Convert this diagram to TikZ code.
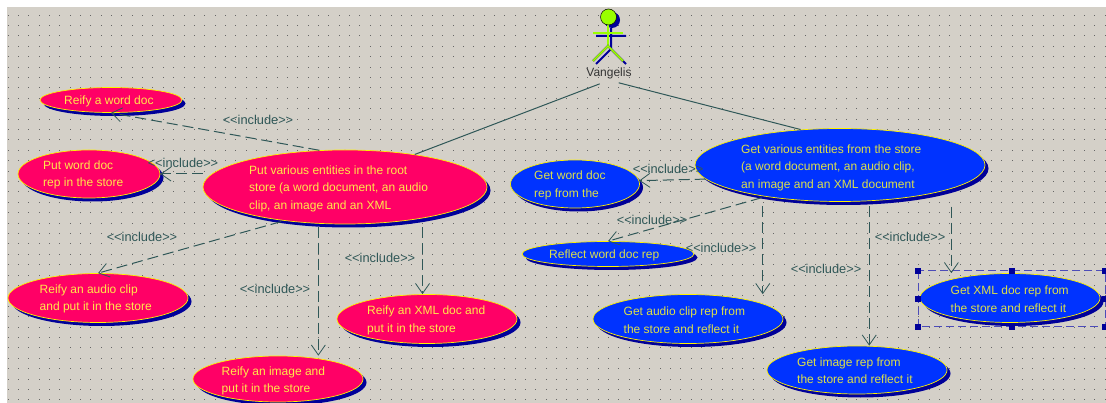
\documentclass[tikz,border=0pt]{standalone}
\usepackage{fontspec}
\setmainfont{Liberation Sans}
\usepackage{tikz}
\usetikzlibrary{arrows.meta,shapes.geometric,shadows}
\definecolor{canvasgrey}{HTML}{D4D0C8}
\definecolor{caseRed}{HTML}{FF0066}
\definecolor{caseBlue}{HTML}{0033FF}
\definecolor{shadowBlue}{HTML}{000099}
\definecolor{lineTeal}{HTML}{2F5757}
\definecolor{textRed}{HTML}{FFE84A}
\definecolor{textBlue}{HTML}{DCE04A}
\definecolor{actorLime}{HTML}{99FF00}
\tikzset{
  usecase/.style={ellipse,draw=yellow,line width=0.7pt,inner sep=0pt,
    general shadow={shadow xshift=3.5pt,shadow yshift=-3.5pt,fill=shadowBlue}},
  casetext/.style={anchor=west,inner sep=0pt,align=left,font=\fontsize{12}{17.5}\selectfont},
  inctext/.style={inner sep=0pt,text=lineTeal,font=\fontsize{12.8}{14}\selectfont},
  assoc/.style={lineTeal,line width=1pt,shorten <=10pt},
  incl/.style={lineTeal,line width=1pt,dash pattern=on 11pt off 5pt,
    -{Straight Barb[length=10pt,width=14pt,line width=0.8pt]}},
  handle/.style={fill=shadowBlue,inner sep=0pt,minimum size=6pt}
}
\begin{document}
\begin{tikzpicture}[x=1pt,y=-1pt]
\useasboundingbox (0,0) rectangle (1106,403);
\clip (0,0) rectangle (1106,403);
\fill[white] (0,0) rectangle (1106,403);
\fill[canvasgrey] (7,7) rectangle (1106,403);
%Punktraster der Zeichenflaeche
\foreach \i in {0,...,106}{
  \foreach \j in {0,...,37}{
    \fill[black!60] ({8+\i*10.35-0.45},{15+\j*10.4-0.45}) rectangle ++(0.9,0.9);
  }
}
%Akteur
\draw[shadowBlue,line width=2pt,shift={(3,3)}] (593,33) -- (623,33) (608,25) -- (608,46) -- (593,61) (608,46) -- (623,61);
\fill[shadowBlue] (612,20) circle (8);
\draw[black!70,double=actorLime,double distance=1.5pt,line width=0.4pt] (593,33) -- (623,33);
\draw[black!70,double=actorLime,double distance=1.5pt,line width=0.4pt] (608,25) -- (608,46);
\draw[black!70,double=actorLime,double distance=1.5pt,line width=0.4pt] (593,61) -- (608,46) -- (623,61);
\draw[black,fill=actorLime,line width=0.5pt] (608.5,17) circle (8);
\node[inner sep=1pt,font=\fontsize{12}{14}\selectfont,text=black!80] (vangelis) at (609,73.5) {Vangelis};
%Anwendungsfaelle links
\foreach \name/\x/\y/\w/\h/\tx/\ty/\txt in {
  reifyword/111/100/142/25/64/101/{Reify a word doc},
  putword/89/174/142/48/43/175/{Put word doc\\rep in the store},
  putall/345/187/284/74/249/188.5/{Put various entities in the root\\store (a word document, an audio\\clip, an image and an XML},
  reifyaudio/98/298/180/49/39.5/299/{Reify an audio clip\\and put it in the store},
  reifyxml/427/319/180/49/367/320.5/{Reify an XML doc and\\put it in the store},
  reifyimage/278/379/170/46/221.5/381/{Reify an image and\\put it in the store}}{
  \node[usecase,fill=caseRed,minimum width=\w pt,minimum height=\h pt] (\name) at (\x,\y) {};
  \node[casetext,text=textRed] (\name text) at (\tx,\ty) {\txt};
}
%Anwendungsfaelle rechts
\foreach \name/\x/\y/\w/\h/\tx/\ty/\txt in {
  getword/575/184/129/48/534/185.5/{Get word doc\\rep from the},
  getall/840/165/290/73/741/167.5/{Get various entities from the store\\(a word document, an audio clip,\\an image and an XML document},
  reflectword/608/254/172/25/549/255/{Reflect word doc rep},
  getaudio/688/319/190/49/623.5/320/{Get audio clip rep from\\the store and reflect it},
  getimage/857/370/180/48/797/370.5/{Get image rep from\\the store and reflect it},
  getxml/1010/298/180/49/950.5/299/{Get XML doc rep from\\the store and reflect it}}{
  \node[usecase,fill=caseBlue,minimum width=\w pt,minimum height=\h pt] (\name) at (\x,\y) {};
  \node[casetext,text=textBlue] (\name text) at (\tx,\ty) {\txt};
}
%Auswahlrahmen
\draw[shadowBlue!70,line width=1pt,dash pattern=on 8pt off 4pt] (918,271) rectangle (1105,327);
\foreach \hx/\hy [count=\n] in {918/271,1012/271,1105/271,918/299,1105/299,918/327,1012/327,1105/327}{
  \node[handle] (handle\n) at (\hx,\hy) {};
}
\draw[assoc] (vangelis.south) -- (putall.25);
\draw[assoc] (vangelis.south) -- (getall.138);
%links
\draw[incl] (putall.125) -- (reifyword.south);
\draw[incl] (putall.west |- putword.east) -- (putword.east);
\draw[incl,shorten <=3pt] (putall.209) -- (reifyaudio.north);
\draw[incl,shorten <=3pt] (putall.234.5) -- (putall.234.5 |- reifyimage.north);
\draw[incl,shorten <=9pt] (putall.338.4) -- (putall.338.4 |- reifyxml.north);
%rechts
\draw[incl] (getall.186.5) -- (getword.3.6);
\draw[incl,shorten <=4pt] (getall.203.3) -- (reflectword.north);
\draw[incl,shorten <=10pt] (getall.202.6) -- (getall.202.6 |- getaudio.north);
\draw[incl,shorten <=5pt] (getall.309) -- (getall.309 |- getimage.north);
\draw[incl,shorten <=18pt] (getall.348.6) -- (getall.348.6 |- getxml.north);
%Beschriftungen
\foreach \lab/\lx/\ly in {inca/258/120,incb/183/163,incc/142/237,incd/380/258,ince/275/289,incf/668/169,incg/652/220,inch/721/248,inci/826/269,incj/910/237}{
  \node[inctext] (\lab) at (\lx,\ly) {<{}<include>{}>};
}
\end{tikzpicture}
\end{document}
